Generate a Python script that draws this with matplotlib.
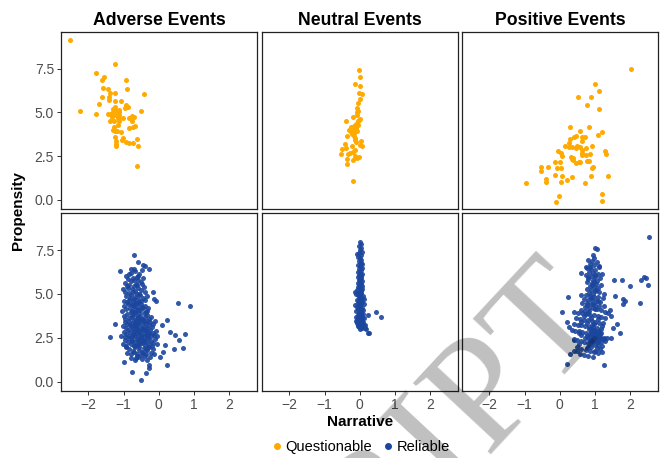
import matplotlib
matplotlib.use("Agg")
import matplotlib.pyplot as plt
from matplotlib.lines import Line2D

plt.rcParams["font.family"] = ["Liberation Sans", "DejaVu Sans"]

# ── Data ─────────────────────────────────────────────────────────────

panels = ["Adverse Events", "Neutral Events", "Positive Events"]
groups = ["Questionable", "Reliable"]
xticks = [-2, -1, 0, 1, 2]
yticks = [0.0, 2.5, 5.0, 7.5]

adverse_q = [
    (-2.52, 9.14), (-1.24, 7.77), (-1.78, 7.23), (-1.57, 6.99), (-1.62, 6.86),
    (-0.93, 6.87), (-1.59, 6.38), (-1.44, 6.32), (-0.90, 6.34), (-1.39, 6.13),
    (-1.23, 6.13), (-0.43, 6.03), (-1.61, 5.90), (-1.42, 5.86), (-1.42, 5.73),
    (-1.25, 5.67), (-1.08, 5.64), (-1.71, 5.48), (-1.24, 5.29), (-0.92, 5.39),
    (-0.88, 5.33), (-0.96, 5.26), (-1.29, 5.20), (-1.13, 5.14), (-2.25, 5.08),
    (-0.49, 5.10), (-1.12, 5.01), (-1.34, 4.95), (-1.45, 4.89), (-1.78, 4.89),
    (-1.22, 4.86), (-1.33, 4.76), (-1.14, 4.86), (-0.75, 4.80), (-0.71, 4.74),
    (-1.16, 4.66), (-1.02, 4.66), (-0.83, 4.65), (-1.12, 4.53), (-1.38, 4.49),
    (-1.27, 4.49), (-0.77, 4.49), (-1.28, 4.19), (-1.17, 4.25), (-0.68, 4.23),
    (-0.73, 4.15), (-0.83, 4.09), (-1.30, 4.02), (-1.25, 3.96), (-1.18, 3.92),
    (-1.06, 3.85), (-1.24, 3.62), (-1.02, 3.54), (-1.05, 3.45), (-0.63, 3.48),
    (-0.93, 3.33), (-1.21, 3.35), (-0.84, 3.26), (-0.74, 3.27), (-1.21, 3.20),
    (-1.22, 3.06), (-0.59, 3.08), (-0.61, 1.96), (-1.36, 4.93), (-1.20, 5.05),
]

neutral_q = [
    (-0.01, 7.41), (0.01, 6.99), (-0.12, 6.63), (0.02, 6.49), (-0.03, 6.09),
    (0.06, 6.03), (0.00, 5.77), (-0.04, 5.56), (-0.08, 5.23), (-0.04, 5.10),
    (-0.08, 5.01), (-0.19, 4.76), (-0.07, 4.82), (0.01, 4.61), (-0.40, 4.49),
    (-0.04, 4.49), (-0.09, 4.34), (-0.15, 4.21), (-0.25, 4.15), (-0.12, 4.09),
    (-0.31, 4.02), (-0.20, 3.98), (-0.08, 3.96), (-0.26, 3.89), (-0.15, 3.83),
    (-0.23, 3.77), (-0.36, 3.67), (-0.17, 3.67), (-0.12, 3.45), (0.03, 3.39),
    (-0.11, 3.31), (-0.42, 3.22), (0.00, 3.12), (0.08, 3.06), (-0.23, 3.08),
    (-0.39, 2.97), (-0.51, 2.91), (-0.12, 2.87), (-0.18, 2.72), (-0.54, 2.61),
    (-0.34, 2.61), (-0.28, 2.66), (-0.12, 2.51), (-0.03, 2.47), (-0.07, 2.40),
    (-0.35, 2.34), (-0.18, 2.29), (-0.35, 2.06), (-0.20, 1.06), (-0.18, 4.00),
    (-0.10, 4.10), (-0.22, 3.90), (-0.05, 4.30), (-0.13, 3.55), (-0.02, 4.55),
]

positive_q = [
    (2.03, 7.49), (1.01, 6.61), (1.11, 6.19), (0.51, 5.85), (0.88, 5.90),
    (0.79, 5.39), (1.13, 5.20), (0.30, 4.19), (0.84, 4.19), (0.57, 3.94),
    (1.21, 3.86), (1.10, 3.73), (0.46, 3.67), (0.40, 3.62), (0.73, 3.60),
    (0.64, 3.58), (0.30, 3.48), (0.63, 3.39), (0.28, 3.23), (0.16, 3.06),
    (0.26, 3.01), (0.36, 3.01), (0.48, 3.10), (0.58, 3.01), (0.76, 2.99),
    (0.91, 3.06), (0.47, 2.97), (0.64, 2.87), (-0.04, 2.82), (0.05, 2.70),
    (0.65, 2.70), (1.29, 2.78), (1.32, 2.63), (0.86, 2.63), (0.75, 2.57),
    (0.64, 2.57), (0.08, 2.49), (0.31, 2.43), (0.38, 2.40), (0.34, 2.32),
    (0.39, 2.26), (0.79, 2.23), (0.84, 2.25), (0.54, 2.17), (0.46, 2.09),
    (0.59, 2.15), (-0.14, 2.17), (0.02, 2.15), (-0.32, 1.90), (-0.52, 1.86),
    (-0.54, 1.66), (-0.08, 1.85), (0.03, 1.83), (0.96, 1.90), (0.91, 1.85),
    (-0.13, 1.43), (0.06, 1.35), (0.34, 1.33), (0.89, 1.35), (1.38, 1.35),
    (-0.38, 1.20), (-0.38, 1.01), (0.21, 1.14), (0.04, 1.01), (0.71, 0.99),
    (-0.97, 0.95), (1.20, 0.34), (-0.03, 0.25), (-0.09, -0.10), (1.21, -0.08),
]

adverse_r = [
    # outlying points
    (-0.70, 7.20), (-0.59, 6.82), (-0.44, 6.67), (-0.40, 6.57), (-0.28, 6.44),
    (-0.80, 6.44), (-1.10, 6.33), (0.54, 4.48), (0.88, 4.33), (-0.07, 4.57),
    (-0.13, 4.71), (-0.16, 5.09), (-1.24, 3.31), (-1.39, 2.57), (0.23, 3.49),
    (0.09, 3.20), (0.31, 2.82), (0.47, 2.67), (0.75, 2.71), (0.57, 2.37),
    (0.45, 1.87), (0.68, 1.93), (0.17, 2.06), (0.12, 1.71), (0.03, 1.39),
    (0.24, 0.95), (-0.99, 1.11), (-0.77, 0.57), (-0.37, 0.50), (-0.49, 0.10),
    (-0.28, 0.80), (-0.27, 0.95), (-0.94, 2.00), (-0.65, 1.34),
    # main cluster
    (-0.92, 6.05), (-0.78, 6.22), (-0.66, 6.31), (-0.55, 6.12), (-0.48, 6.38),
    (-0.71, 6.45), (-0.60, 6.02), (-0.84, 6.15),
    (-0.95, 5.62), (-0.88, 5.85), (-0.79, 5.71), (-0.72, 5.93), (-0.65, 5.58),
    (-0.58, 5.80), (-0.51, 5.66), (-0.44, 5.92), (-0.69, 5.77), (-0.83, 5.52),
    (-0.62, 5.96), (-0.47, 5.55),
    (-1.02, 5.31), (-0.97, 5.12), (-0.90, 5.44), (-0.84, 5.05), (-0.77, 5.28),
    (-0.71, 5.47), (-0.66, 5.15), (-0.60, 5.36), (-0.55, 5.02), (-0.49, 5.24),
    (-0.42, 5.41), (-0.38, 5.10), (-0.74, 5.09), (-0.63, 5.50), (-0.86, 5.33),
    (-1.00, 4.62), (-0.94, 4.88), (-0.89, 4.55), (-0.82, 4.76), (-0.78, 4.95),
    (-0.73, 4.60), (-0.68, 4.83), (-0.64, 4.51), (-0.59, 4.71), (-0.54, 4.92),
    (-0.50, 4.58), (-0.45, 4.79), (-0.40, 4.66), (-0.33, 4.86), (-0.70, 4.70),
    (-0.61, 4.97), (-0.85, 4.68), (-0.56, 4.54),
    (-1.05, 4.05), (-0.98, 4.31), (-0.93, 4.12), (-0.87, 4.44), (-0.81, 4.20),
    (-0.76, 4.03), (-0.72, 4.37), (-0.67, 4.15), (-0.63, 4.48), (-0.58, 4.26),
    (-0.53, 4.08), (-0.49, 4.40), (-0.44, 4.18), (-0.39, 4.33), (-0.34, 4.02),
    (-0.29, 4.22), (-0.69, 4.29), (-0.60, 4.10), (-0.79, 4.41), (-0.47, 4.25),
    (-1.00, 3.72), (-0.95, 3.55), (-0.90, 3.88), (-0.85, 3.62), (-0.80, 3.96),
    (-0.75, 3.70), (-0.71, 3.52), (-0.66, 3.84), (-0.62, 3.61), (-0.57, 3.93),
    (-0.52, 3.75), (-0.48, 3.58), (-0.43, 3.89), (-0.38, 3.66), (-0.33, 3.80),
    (-0.27, 3.57), (-0.22, 3.71), (-0.68, 3.99), (-0.58, 3.68), (-0.77, 3.81),
    (-0.45, 3.51), (-0.35, 3.95),
    (-1.02, 3.15), (-0.97, 3.38), (-0.93, 3.05), (-0.89, 3.27), (-0.84, 3.46),
    (-0.80, 3.12), (-0.76, 3.33), (-0.72, 3.02), (-0.69, 3.22), (-0.65, 3.44),
    (-0.61, 3.10), (-0.58, 3.30), (-0.54, 3.49), (-0.51, 3.06), (-0.47, 3.25),
    (-0.43, 3.40), (-0.40, 3.13), (-0.36, 3.35), (-0.32, 3.03), (-0.28, 3.21),
    (-0.24, 3.42), (-0.20, 3.09), (-0.15, 3.28), (-0.10, 3.45), (-0.67, 3.17),
    (-0.56, 3.38), (-0.45, 3.00), (-0.34, 3.48), (-0.82, 3.20), (-0.62, 3.36),
    (-1.06, 2.62), (-1.00, 2.85), (-0.96, 2.55), (-0.92, 2.74), (-0.88, 2.96),
    (-0.84, 2.60), (-0.81, 2.81), (-0.77, 2.52), (-0.74, 2.70), (-0.70, 2.91),
    (-0.67, 2.58), (-0.64, 2.77), (-0.61, 2.98), (-0.58, 2.64), (-0.55, 2.83),
    (-0.52, 2.51), (-0.49, 2.72), (-0.46, 2.93), (-0.43, 2.57), (-0.40, 2.79),
    (-0.37, 2.66), (-0.34, 2.88), (-0.31, 2.54), (-0.28, 2.75), (-0.25, 2.95),
    (-0.21, 2.61), (-0.17, 2.80), (-0.13, 2.68), (-0.08, 2.90), (-0.05, 2.58),
    (-0.72, 2.63), (-0.60, 2.86), (-0.50, 2.61), (-0.40, 2.94), (-0.30, 2.70),
    (-1.02, 2.12), (-0.97, 2.36), (-0.92, 2.05), (-0.87, 2.28), (-0.83, 2.47),
    (-0.79, 2.15), (-0.75, 2.38), (-0.71, 2.02), (-0.67, 2.25), (-0.63, 2.44),
    (-0.59, 2.10), (-0.55, 2.31), (-0.51, 2.49), (-0.47, 2.18), (-0.43, 2.40),
    (-0.39, 2.06), (-0.35, 2.27), (-0.31, 2.45), (-0.27, 2.13), (-0.23, 2.34),
    (-0.19, 2.01), (-0.15, 2.22), (-0.10, 2.42), (-0.06, 2.16), (-0.65, 2.08),
    (-0.53, 2.20), (-0.41, 2.33), (-0.29, 2.00), (-0.77, 2.30), (-0.60, 2.39),
    (-0.90, 1.62), (-0.84, 1.85), (-0.78, 1.55), (-0.72, 1.74), (-0.66, 1.95),
    (-0.61, 1.60), (-0.56, 1.81), (-0.51, 1.52), (-0.46, 1.70), (-0.42, 1.92),
    (-0.37, 1.58), (-0.32, 1.78), (-0.27, 1.97), (-0.22, 1.65), (-0.17, 1.86),
    (-0.12, 1.56), (-0.55, 1.99), (-0.45, 1.63), (-0.35, 1.88), (-0.69, 1.68),
    (-0.78, 1.35), (-0.68, 1.25), (-0.58, 1.42), (-0.48, 1.30), (-0.40, 1.46),
    (-0.32, 1.22), (-0.25, 1.38), (-0.62, 1.48),
]

neutral_r = [
    (0.23, 3.77), (0.46, 3.98), (0.60, 3.66), (0.23, 2.80), (0.27, 2.77),
    (0.18, 3.01), (-0.13, 5.09), (-0.12, 4.38), (-0.08, 7.28),
    (0.02, 7.98), (0.05, 7.85), (-0.01, 7.74), (0.04, 7.62), (0.00, 7.51),
    (0.06, 7.40), (-0.03, 7.33), (0.03, 7.22), (-0.06, 7.12), (0.01, 7.05),
    (0.05, 6.96), (-0.02, 6.88), (0.03, 6.79), (0.07, 6.71), (-0.04, 6.64),
    (0.01, 6.57), (0.06, 6.49), (-0.01, 6.42), (0.04, 6.35), (-0.05, 6.27),
    (0.02, 6.20), (0.08, 6.13), (-0.02, 6.06), (0.03, 6.01),
    (-0.06, 5.96), (0.05, 5.91), (0.00, 5.85), (-0.03, 5.79), (0.07, 5.74),
    (0.02, 5.68), (-0.05, 5.62), (0.04, 5.57), (-0.01, 5.51), (0.06, 5.45),
    (-0.04, 5.40), (0.01, 5.34), (0.08, 5.28), (-0.07, 5.22), (0.03, 5.17),
    (-0.02, 5.11), (0.05, 5.06), (-0.09, 5.02),
    (0.02, 4.97), (-0.05, 4.92), (0.09, 4.88), (0.00, 4.83), (-0.03, 4.78),
    (0.06, 4.74), (0.13, 4.70), (-0.07, 4.66), (0.03, 4.62), (-0.01, 4.57),
    (0.08, 4.53), (-0.05, 4.49), (0.04, 4.45), (0.11, 4.40), (-0.02, 4.36),
    (0.01, 4.31), (-0.08, 4.27), (0.06, 4.22), (0.00, 4.18), (-0.04, 4.13),
    (0.09, 4.09), (0.03, 4.04), (-0.10, 4.01),
    (0.05, 3.97), (-0.03, 3.93), (0.01, 3.89), (0.10, 3.86), (-0.06, 3.82),
    (0.04, 3.78), (-0.01, 3.74), (0.08, 3.71), (-0.09, 3.67), (0.02, 3.63),
    (0.12, 3.60), (-0.04, 3.56), (0.06, 3.53), (-0.07, 3.49), (0.00, 3.46),
    (0.09, 3.42), (-0.02, 3.39), (0.04, 3.35), (-0.08, 3.32), (0.07, 3.28),
    (0.01, 3.25), (-0.05, 3.21), (0.11, 3.18), (0.03, 3.14), (-0.03, 3.11),
    (0.06, 3.08), (0.14, 3.05), (0.00, 3.02), (-0.06, 3.16), (0.08, 3.34),
    (-0.10, 3.44), (0.15, 3.20), (0.02, 3.51), (-0.04, 3.70), (0.05, 3.88),
]

positive_r = [
    # outlying points
    (2.53, 8.23), (1.02, 7.60), (1.06, 7.58), (0.94, 7.24), (0.99, 7.05),
    (0.76, 6.51), (1.13, 6.51), (1.20, 6.15), (0.61, 6.19), (1.54, 5.79),
    (1.78, 5.77), (2.41, 5.98), (2.47, 5.89), (2.31, 5.79), (2.51, 5.53),
    (1.99, 5.43), (1.26, 4.99), (1.59, 4.86), (1.79, 4.73), (1.85, 4.57),
    (1.80, 4.42), (2.29, 4.46), (0.25, 4.80), (0.07, 3.97), (0.22, 3.39),
    (0.28, 3.09), (1.44, 4.08), (1.37, 3.89), (1.46, 3.75), (1.63, 3.31),
    (1.53, 3.05), (1.71, 2.80), (1.47, 2.51), (1.27, 2.44), (1.21, 1.71),
    (1.27, 0.95), (0.22, 1.03), (0.30, 1.58), (0.40, 1.75), (0.48, 1.77),
    (0.42, 2.38), (0.55, 2.77), (1.01, 1.77), (0.82, 2.00),
    # main column and core
    (0.80, 6.95), (0.93, 6.88), (1.05, 6.80), (0.86, 6.72), (0.98, 6.66),
    (1.12, 6.58), (0.78, 6.47), (0.90, 6.40), (1.02, 6.35), (0.84, 6.27),
    (0.96, 6.21), (1.08, 6.14), (0.76, 6.08), (0.88, 6.02), (1.00, 5.96),
    (1.15, 5.90), (0.82, 5.84), (0.94, 5.78), (1.06, 5.72), (0.79, 5.66),
    (0.91, 5.60), (1.03, 5.55), (1.18, 5.49), (0.85, 5.43), (0.97, 5.38),
    (1.09, 5.32), (0.77, 5.26), (0.89, 5.21), (1.01, 5.15), (1.13, 5.10),
    (0.83, 5.05), (0.95, 5.01), (0.87, 6.55), (1.00, 6.10), (0.92, 5.52),
    (1.04, 5.25), (0.81, 5.94), (0.99, 5.68),
    (0.62, 4.96), (0.74, 4.92), (0.86, 4.88), (0.98, 4.84), (1.10, 4.80),
    (1.22, 4.76), (0.68, 4.71), (0.80, 4.67), (0.92, 4.63), (1.04, 4.59),
    (1.16, 4.55), (0.65, 4.50), (0.77, 4.46), (0.89, 4.42), (1.01, 4.38),
    (1.13, 4.34), (1.25, 4.30), (0.71, 4.26), (0.83, 4.22), (0.95, 4.18),
    (1.07, 4.14), (1.19, 4.10), (0.60, 4.06), (0.72, 4.03), (0.84, 4.00),
    (0.96, 4.44), (0.90, 4.74), (1.02, 4.12), (0.78, 4.35), (1.08, 4.62),
    (0.42, 3.97), (0.53, 3.93), (0.64, 3.89), (0.75, 3.85), (0.86, 3.81),
    (0.97, 3.77), (1.08, 3.73), (1.19, 3.69), (1.30, 3.65), (0.47, 3.61),
    (0.58, 3.57), (0.69, 3.53), (0.80, 3.49), (0.91, 3.45), (1.02, 3.41),
    (1.13, 3.37), (1.24, 3.33), (0.40, 3.29), (0.51, 3.25), (0.62, 3.21),
    (0.73, 3.17), (0.84, 3.13), (0.95, 3.09), (1.06, 3.05), (1.17, 3.02),
    (1.28, 3.99), (0.88, 3.62), (0.99, 3.30), (0.70, 3.75), (1.10, 3.55),
    (0.60, 3.42), (0.82, 3.90), (1.21, 3.15), (0.93, 3.20), (0.77, 3.35),
    (0.36, 2.96), (0.45, 2.91), (0.55, 2.86), (0.65, 2.81), (0.75, 2.76),
    (0.85, 2.71), (0.95, 2.66), (1.05, 2.61), (1.15, 2.56), (1.25, 2.51),
    (1.35, 2.46), (0.40, 2.41), (0.50, 2.36), (0.60, 2.31), (0.70, 2.26),
    (0.80, 2.21), (0.90, 2.16), (1.00, 2.11), (1.10, 2.06), (1.20, 2.02),
    (0.83, 2.98), (0.92, 2.92), (1.01, 2.87), (1.10, 2.82), (1.19, 2.77),
    (0.87, 2.62), (0.96, 2.57), (1.05, 2.52), (1.14, 2.47), (1.23, 2.42),
    (0.82, 2.47), (0.91, 2.38), (1.00, 2.33), (1.09, 2.28), (1.18, 2.24),
    (0.88, 2.85), (0.97, 2.79), (1.06, 2.74), (1.15, 2.69), (0.79, 2.58),
    (0.99, 2.95), (1.08, 2.40), (0.94, 2.25), (1.12, 2.90), (0.86, 2.35),
    (1.03, 2.68), (0.72, 2.50), (0.62, 2.65), (1.30, 2.30), (0.55, 2.15),
    (0.50, 1.95), (0.62, 1.88), (0.74, 1.82), (0.86, 1.76), (0.98, 1.70),
    (1.10, 1.64), (0.58, 1.58), (0.70, 1.52), (0.82, 1.46), (0.94, 1.40),
    (1.06, 1.90), (0.90, 1.98), (0.78, 1.92), (1.15, 1.85),
]

data = {
    "Questionable": [adverse_q, neutral_q, positive_q],
    "Reliable": [adverse_r, neutral_r, positive_r],
}
colors = {"Questionable": "#FFAA00", "Reliable": "#1B469E"}

# ── Layout ───────────────────────────────────────────────────────────

W, H = 660, 458
col_left = [61, 262, 462]
col_width = 196
row_top = [31.7, 213.3]
row_height = 177.4

fig = plt.figure(figsize=(W / 100, H / 100), dpi=100)

for r, grp in enumerate(groups):
    for c, name in enumerate(panels):
        ax = fig.add_axes([
            col_left[c] / W,
            1 - (row_top[r] + row_height) / H,
            col_width / W,
            row_height / H,
        ])
        pts = data[grp][c]
        ax.scatter([p[0] for p in pts], [p[1] for p in pts], s=13,
                   color=colors[grp], alpha=0.9 if grp == "Reliable" else 1,
                   linewidths=0, zorder=3)
        ax.set_xlim(-2.78, 2.8)
        ax.set_ylim(-0.52, 9.6)
        ax.set_xticks(xticks)
        ax.set_yticks(yticks)
        ax.set_yticklabels([f"{v:.1f}" for v in yticks])
        ax.tick_params(direction="out", length=3, width=0.7, color="#333333",
                       labelcolor="#4D4D4D", labelsize=10, pad=2)
        if c > 0:
            ax.tick_params(axis="y", left=False, labelleft=False)
        if r == 0:
            ax.tick_params(axis="x", bottom=False, labelbottom=False)
            ax.set_title(name, fontsize=12.7, fontweight="bold", pad=5)
        for sp in ax.spines.values():
            sp.set_color("#222222")
            sp.set_linewidth(0.9)

fig.text(360 / W, 1 - 422 / H, "Narrative", ha="center", va="center",
         fontsize=11, fontweight="bold")
fig.text(18 / W, 1 - 211 / H, "Propensity", ha="center", va="center",
         rotation=90, fontsize=11, fontweight="bold")

handles = [Line2D([], [], marker="o", linestyle="", markersize=4,
                  color=colors[g], label=g) for g in groups]
fig.legend(handles=handles, loc="center", ncol=2, frameon=False,
           bbox_to_anchor=(360 / W, 1 - 447 / H), fontsize=10.5,
           handletextpad=0.1, columnspacing=0.6, handlelength=1.0)

# watermark from the source page
fig.text(612 / W, 1 - 312 / H, "SCRIPT", ha="right",
         va="baseline", rotation=47, rotation_mode="anchor",
         fontsize=116, family=["Liberation Serif", "DejaVu Serif"],
         color="black", alpha=0.25, zorder=10)

fig.savefig("out.png", dpi=100)
